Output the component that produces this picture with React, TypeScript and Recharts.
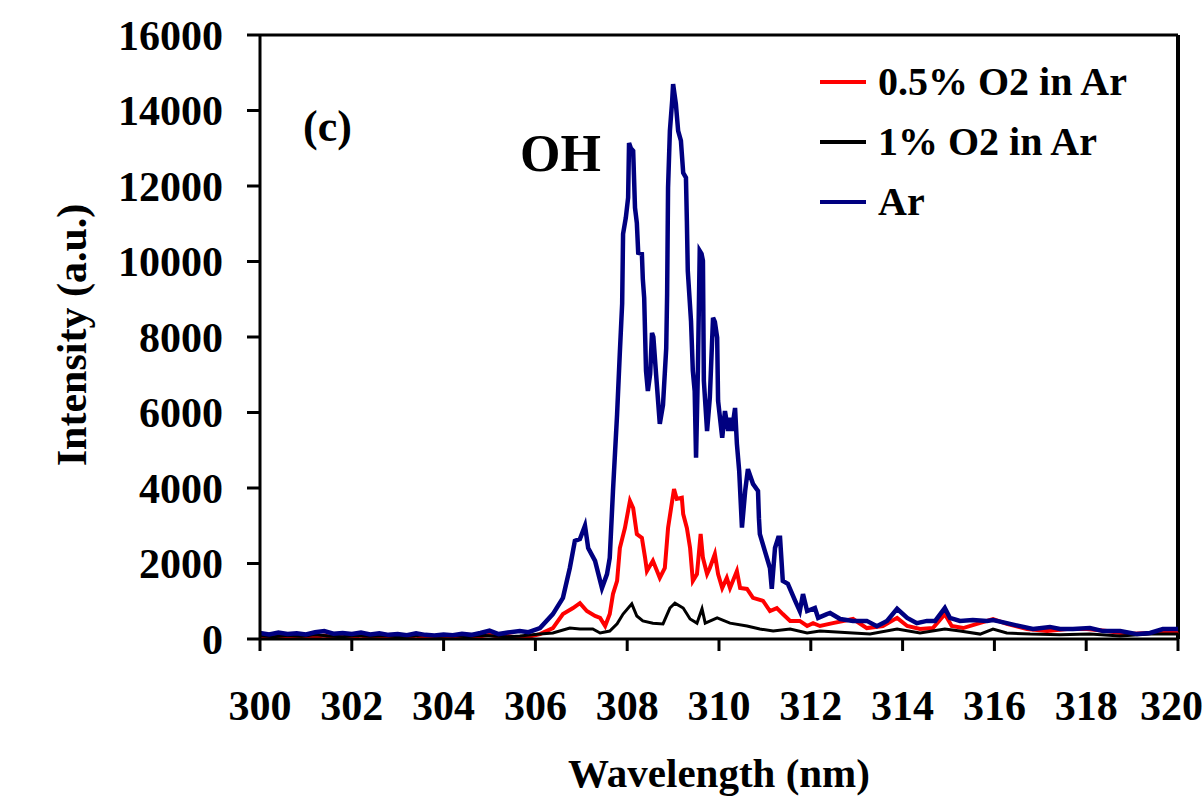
import { LineChart, Line, XAxis, YAxis, ReferenceLine } from "recharts";

const FONT = '"Liberation Serif", "Times New Roman", serif';

// Ar
const arWavelength = [
  300.0, 300.2, 300.4, 300.6, 300.8, 301.0, 301.2, 301.4, 301.6, 301.8, 302.0, 302.2, 302.4, 302.6, 302.8,
  303.0, 303.2, 303.4, 303.6, 303.8, 304.0, 304.2, 304.4, 304.6, 304.8, 305.0, 305.2, 305.4, 305.66, 305.85,
  306.1, 306.38, 306.6, 306.75, 306.86, 306.97, 307.08, 307.15, 307.3, 307.45, 307.56, 307.62, 307.69, 307.78,
  307.84, 307.89, 307.91, 307.97, 308.02, 308.04, 308.08, 308.13, 308.17, 308.21, 308.24, 308.32, 308.34,
  308.37, 308.41, 308.45, 308.5, 308.54, 308.57, 308.63, 308.71, 308.78, 308.85, 308.87, 308.89, 308.93,
  308.98, 309.0, 309.06, 309.11, 309.17, 309.22, 309.28, 309.3, 309.32, 309.39, 309.43, 309.47, 309.5, 309.54,
  309.58, 309.62, 309.65, 309.67, 309.74, 309.8, 309.87, 309.91, 309.96, 309.98, 310.07, 310.13, 310.2,
  310.24, 310.28, 310.35, 310.39, 310.44, 310.5, 310.57, 310.63, 310.74, 310.85, 310.87, 310.89, 311.0,
  311.11, 311.15, 311.22, 311.29, 311.33, 311.39, 311.5, 311.66, 311.76, 311.83, 311.92, 312.09, 312.16,
  312.35, 312.42, 312.64, 312.92, 313.22, 313.44, 313.66, 313.88, 314.1, 314.31, 314.53, 314.71, 314.92,
  315.03, 315.25, 315.53, 315.84, 315.97, 316.27, 316.56, 316.84, 317.21, 317.43, 317.71, 318.08, 318.37,
  318.74, 319.11, 319.39, 319.67, 320.0,
];
const arIntensity = [
  160, 120, 170, 130, 150, 120, 180, 210, 140, 160, 130, 170, 120, 150, 110,
  130, 100, 150, 110, 90, 120, 100, 140, 110, 160, 220, 130, 170, 210, 180,
  290, 660, 1090, 1880, 2600, 2650, 3000, 2410, 2070, 1350, 1720, 2150, 3920, 5960,
  7600, 8880, 10730, 11160, 11690, 13140, 13000, 12930, 11420, 11020, 10230, 10200, 9540,
  9040, 7100, 6570, 7020, 8110, 8000, 7000, 5700, 6200, 7700, 9140, 11950, 13460,
  14260, 14700, 14180, 13460, 13200, 12350, 12220, 11080, 9750, 8430, 7100, 6570, 4800, 7100,
  10280, 10200, 10020, 6840, 5510, 6390, 8510, 8400, 7980, 6310, 5330, 6040, 5510,
  5860, 5510, 6120, 5170, 4450, 2950, 3920, 4500, 4110, 3920, 3200, 2780, 2330,
  1880, 1330, 2410, 2680, 2680, 1540, 1460, 1010, 740, 1190, 740, 820, 560,
  660, 690, 530, 480, 480, 340, 480, 800, 560, 420, 480, 480, 820,
  560, 480, 500, 480, 500, 420, 340, 265, 320, 265, 265, 290, 210,
  210, 130, 160, 265, 265,
];

// 0.5% O2 in Ar
const halfWavelength = [
  300.0, 300.2, 300.4, 300.6, 300.8, 301.0, 301.2, 301.4, 301.6, 301.8, 302.0, 302.2, 302.4, 302.6, 302.8,
  303.0, 303.2, 303.4, 303.6, 303.8, 304.0, 304.2, 304.4, 304.6, 304.8, 305.0, 305.2, 305.4, 305.66, 305.85,
  306.1, 306.38, 306.6, 306.82, 306.97, 307.12, 307.3, 307.41, 307.52, 307.62, 307.69, 307.78, 307.84,
  307.95, 308.06, 308.13, 308.21, 308.32, 308.39, 308.43, 308.56, 308.65, 308.71, 308.82, 308.89, 308.98,
  309.02, 309.08, 309.19, 309.22, 309.3, 309.37, 309.43, 309.52, 309.6, 309.65, 309.74, 309.8, 309.91,
  309.98, 310.07, 310.17, 310.24, 310.39, 310.46, 310.61, 310.74, 310.96, 311.11, 311.26, 311.39, 311.55,
  311.76, 311.92, 312.05, 312.2, 312.48, 312.92, 313.22, 313.57, 313.88, 314.1, 314.38, 314.66, 314.92,
  315.07, 315.32, 315.62, 315.97, 316.27, 316.71, 317.15, 317.58, 318.02, 318.45, 318.89, 319.39, 319.89, 320.0,
];
const halfIntensity = [
  60, 30, 80, 40, 70, 30, 60, 90, 40, 70, 50, 90, 40, 60, 30,
  70, 40, 90, 30, 50, 60, 30, 80, 50, 70, 110, 60, 80, 30, 60,
  130, 290, 660, 820, 950, 740, 610, 560, 345, 660, 1190, 1540, 2410,
  2940, 3660, 3470, 2780, 2680, 2150, 1800, 2070, 1800, 1620, 1880, 2940, 3660,
  3970, 3710, 3740, 3310, 2940, 2410, 1540, 1720, 2780, 2150, 1720, 1880, 2250,
  1720, 1350, 1620, 1350, 1800, 1350, 1325, 1090, 1010, 740, 820, 660, 480,
  480, 345, 420, 345, 420, 530, 290, 345, 560, 345, 265, 290, 660,
  345, 290, 400, 530, 400, 265, 210, 265, 265, 210, 130, 160, 160, 200,
];

// 1% O2 in Ar
const oneWavelength = [
  300.0, 300.3, 300.6, 300.9, 301.2, 301.5, 301.8, 302.1, 302.4, 302.7, 303.0, 303.3, 303.6, 303.9, 304.2,
  304.5, 304.8, 305.1, 305.4, 305.66, 306.1, 306.38, 306.75, 306.97, 307.25, 307.41, 307.62, 307.78, 307.91,
  308.1, 308.21, 308.34, 308.56, 308.78, 308.93, 309.04, 309.22, 309.37, 309.52, 309.63, 309.7, 309.96,
  310.24, 310.61, 310.89, 311.18, 311.55, 311.92, 312.2, 312.92, 313.29, 313.88, 314.38, 314.92, 315.25,
  315.69, 315.97, 316.27, 316.78, 317.43, 318.08, 318.74, 319.39, 320.0,
];
const oneIntensity = [
  90, 60, 100, 70, 110, 80, 60, 100, 70, 90, 60, 80, 110, 70, 90,
  60, 100, 80, 60, 80, 130, 160, 290, 265, 265, 160, 210, 400, 660,
  930, 610, 480, 420, 400, 820, 950, 820, 530, 420, 800, 420, 560,
  420, 345, 265, 210, 265, 160, 210, 160, 130, 265, 160, 265, 210,
  130, 265, 160, 130, 110, 130, 80, 130, 130,
];

const xTicks = [300, 302, 304, 306, 308, 310, 312, 314, 316, 318, 320];
const yTicks = [0, 2000, 4000, 6000, 8000, 10000, 12000, 14000, 16000];

const series = [
  { name: "0.5% O2 in Ar", color: "#ff0000", width: 4, wl: halfWavelength, val: halfIntensity },
  { name: "1% O2 in Ar", color: "#000000", width: 3, wl: oneWavelength, val: oneIntensity },
  { name: "Ar", color: "#000080", width: 4.5, wl: arWavelength, val: arIntensity },
];

const tickStyle = { fontSize: 42, fontWeight: "bold", fill: "#000", fontFamily: FONT };

const LegendBox = () => (
  <div style={{ position: "absolute", left: 820, top: 52, fontFamily: FONT }}>
    {series.map((s) => (
      <div key={s.name} style={{ display: "flex", alignItems: "center", height: 60 }}>
        <span style={{ display: "inline-block", width: 46, height: 4, background: s.color, marginRight: 12 }} />
        <span style={{ fontSize: 40, fontWeight: "bold", color: "#000", lineHeight: 1 }}>{s.name}</span>
      </div>
    ))}
  </div>
);

const YTitle = () => (
  <text
    x={72}
    y={335}
    transform="rotate(-90 72 335)"
    textAnchor="middle"
    dominantBaseline="central"
    fontSize={42}
    fontWeight="bold"
    fontFamily={FONT}
    fill="#000"
  >
    Intensity (a.u.)
  </text>
);

const XTitle = () => (
  <text x={719} y={787} textAnchor="middle" fontSize={41} fontWeight="bold" fontFamily={FONT} fill="#000">
    Wavelength (nm)
  </text>
);

export default function App() {
  return (
    <div style={{ position: "absolute", left: 0, top: 0, width: 1203, height: 797, background: "#fff", fontFamily: FONT }}>
      <LineChart width={1203} height={797} margin={{ top: 35, right: 25, bottom: 58, left: 160 }}>
        <XAxis
          dataKey="x"
          type="number"
          domain={[300, 320]}
          ticks={xTicks}
          allowDuplicatedCategory={false}
          height={100}
          tickSize={12}
          tickMargin={39}
          tick={tickStyle}
          axisLine={{ stroke: "#000", strokeWidth: 3 }}
          tickLine={{ stroke: "#000", strokeWidth: 3 }}
          label={<XTitle />}
        />
        <YAxis
          type="number"
          domain={[0, 16000]}
          ticks={yTicks}
          width={100}
          tickSize={13}
          tickMargin={24}
          tick={tickStyle}
          axisLine={{ stroke: "#000", strokeWidth: 3 }}
          tickLine={{ stroke: "#000", strokeWidth: 3 }}
          label={<YTitle />}
        />
        <ReferenceLine y={16000} stroke="#000" strokeWidth={3} />
        <ReferenceLine x={320} stroke="#000" strokeWidth={4} />
        {series.map((s) => (
          <Line
            key={s.name}
            name={s.name}
            data={s.wl.map((x, i) => ({ x, y: s.val[i] }))}
            dataKey="y"
            type="linear"
            stroke={s.color}
            strokeWidth={s.width}
            dot={false}
            activeDot={false}
            isAnimationActive={false}
          />
        ))}
      </LineChart>
      <LegendBox />
      <div style={{ position: "absolute", left: 520, top: 128, fontSize: 52, fontWeight: "bold", lineHeight: 1 }}>OH</div>
      <div style={{ position: "absolute", left: 303, top: 105, fontSize: 44, fontWeight: "bold", lineHeight: 1 }}>(c)</div>
    </div>
  );
}
